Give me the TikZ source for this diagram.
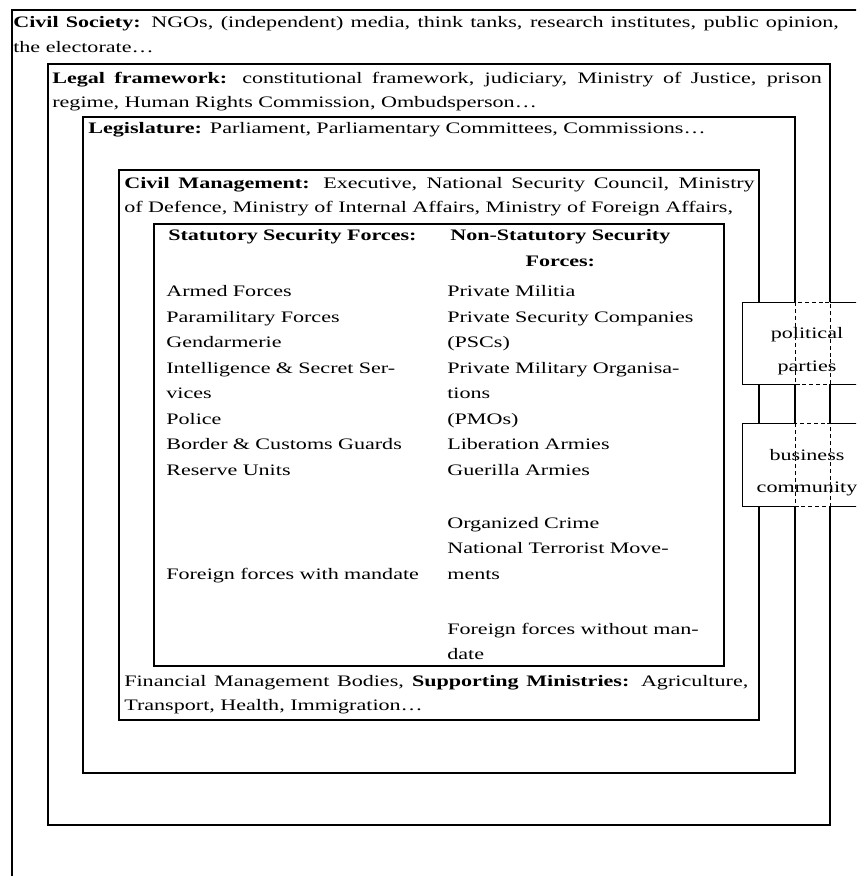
\documentclass[tikz,border=0pt]{standalone}
\usepackage{fontspec}
\setmainfont{Liberation Serif}[FakeStretch=1.38]
\tikzset{
    ringbox/.style = {draw, line width=0.85pt},
    sidebox/.style = {draw, line width=0.6pt},
    sidedash/.style = {sidebox, dash pattern=on 2.5pt off 1.8pt},
    boxtext/.style = {anchor=base west, inner sep=0pt,
        font=\fontsize{10}{15.3}\selectfont},
    coltext/.style = {anchor=base west, inner sep=0pt, align=left,
        text width=170pt, font=\fontsize{10}{15.9}\selectfont},
    sidetext/.style = {anchor=base, inner sep=0pt, align=center,
        text width=80pt, font=\fontsize{10}{20.3}\selectfont}
}
\begin{document}
\begin{tikzpicture}[x=0.625pt, y=-0.625pt]
    \useasboundingbox (0,0) rectangle (856,876);
    \clip (0,0) rectangle (856,876);
    \draw[ringbox] (12,10) rectangle (900,900);
    \draw[ringbox] (48,64) rectangle (830,825);
    \draw[ringbox] (83,117) rectangle (795,773);
    \draw[ringbox] (119,170) rectangle (759,720);
    \draw[ringbox] (154,224) rectangle (724,666);
    \node[boxtext, align=justify, text width=516pt] (society) at (13,28) {\textbf{Civil Society:} NGOs, (independent) media, think tanks, research institutes, public opinion,\linebreak the electorate…};
    \node[boxtext, align=justify, text width=481pt] (legal) at (52,83.5) {\textbf{Legal framework:} constitutional framework, judiciary, Ministry of Justice, prison\linebreak regime, Human Rights Commission, Ombudsperson…};
    \node[boxtext, align=left, text width=440pt] (legis) at (88,134) {\textbf{Legislature:} Parliament, Parliamentary Committees, Commissions…};
    \node[boxtext, align=justify, text width=394pt] (civil) at (124,188.5) {\textbf{Civil Management:} Executive, National Security Council, Ministry\linebreak \mbox{of Defence, Ministry of Internal Affairs, Ministry of Foreign Affairs,}};
    \node[coltext] (stathead) at (168,241) {\textbf{Statutory Security Forces:}};
    \node[coltext, align=center, text width=150pt] (nonstathead) at (440,241) {\textbf{Non-Statutory Security}\\\textbf{Forces:}};
    \node[coltext] (statcol) at (166,297) {Armed Forces\\Paramilitary Forces\\Gendarmerie\\Intelligence \& Secret Ser-\\vices\\Police\\Border \& Customs Guards\\Reserve Units\\[49.4pt]Foreign forces with mandate};
    \node[coltext] (nonstatcol) at (447,297) {Private Militia\\Private Security Companies\\(PSCs)\\Private Military Organisa-\\tions\\(PMOs)\\Liberation Armies\\Guerilla Armies\\[17.5pt]Organized Crime\\National Terrorist Move-\\ments\\[18.5pt]Foreign forces without man-\\date};
    \node[boxtext, align=justify, text width=390pt] (finance) at (124,686) {Financial Management Bodies, \textbf{Supporting Ministries:} Agriculture,\linebreak Transport, Health, Immigration…};
    \fill[white] (742,302) rectangle (872,384);
    \draw[sidebox] (795,302) -- (742,302) -- (742,384) -- (795,384);
    \draw[sidebox] (830,302) -- (872,302) -- (872,384) -- (830,384);
    \draw[sidedash] (795,302) rectangle (830,384);
    \node[sidetext] (parties) at (807,339) {political\\parties};
    \fill[white] (742,423) rectangle (872,506);
    \draw[sidebox] (795,423) -- (742,423) -- (742,506) -- (795,506);
    \draw[sidebox] (830,423) -- (872,423) -- (872,506) -- (830,506);
    \draw[sidedash] (795,423) rectangle (830,506);
    \node[sidetext] (business) at (807,460) {business\\community};
\end{tikzpicture}
\end{document}
